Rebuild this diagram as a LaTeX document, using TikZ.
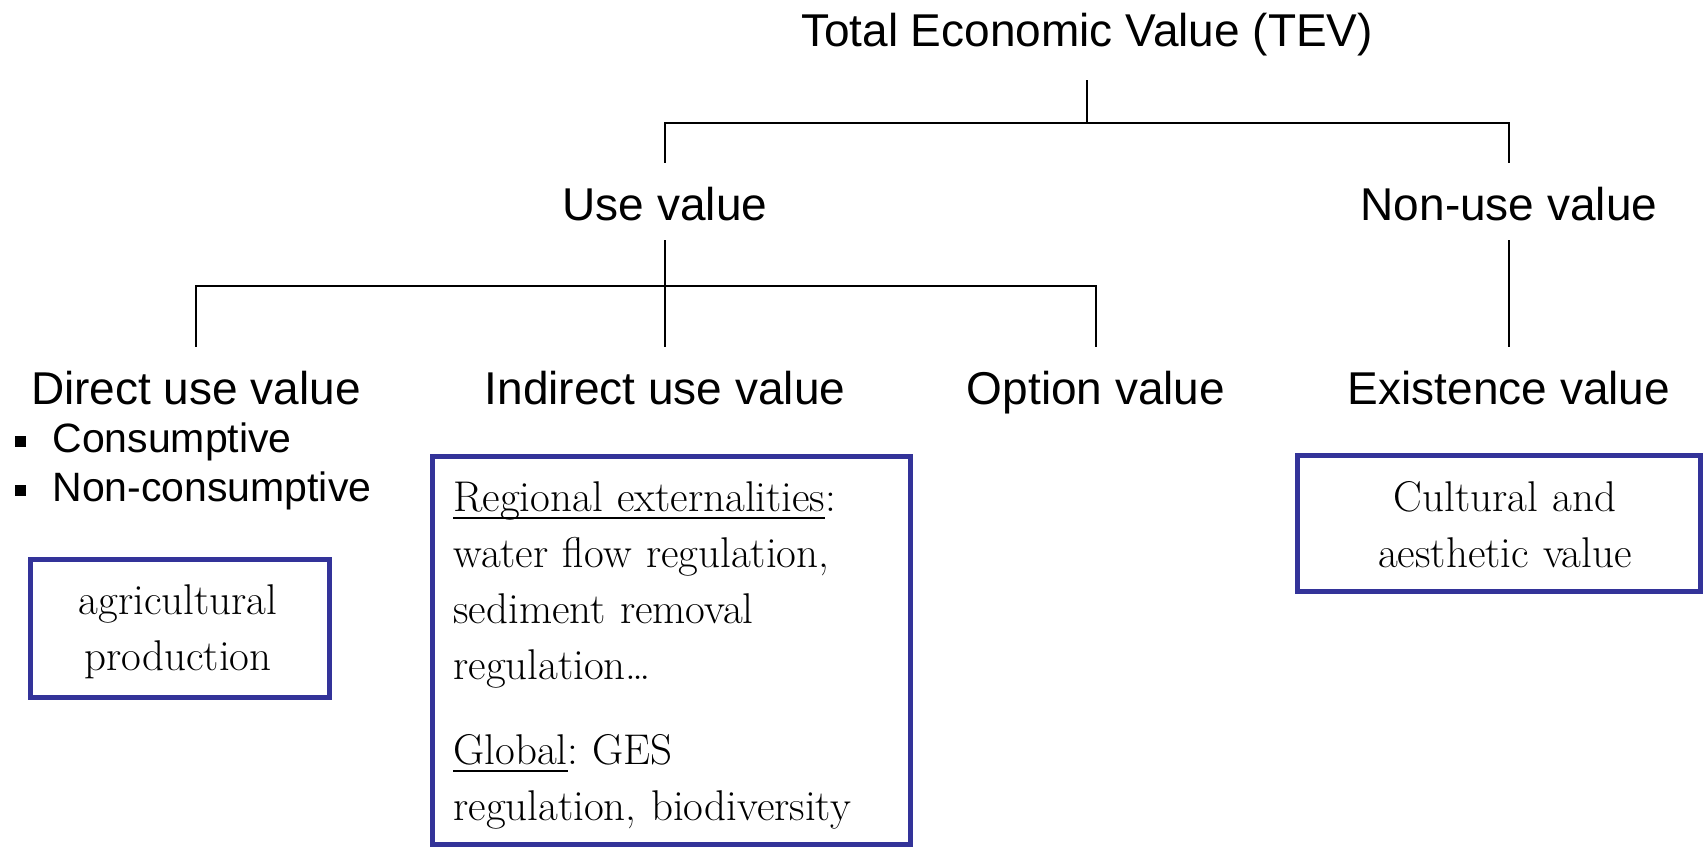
\documentclass[tikz,border=0pt]{standalone}
\usepackage{fontspec}
\setsansfont{Liberation Sans}
\usepackage{tikz}

\definecolor{boxblue}{RGB}{51,51,153}
\newcommand{\ulword}[1]{\leavevmode\setbox0\hbox{#1}\rlap{\rule[-3.5pt]{\wd0}{1pt}}\box0}
\newcommand{\sqbullet}{\rule[2.75pt]{5.5pt}{5.5pt}\hspace{13pt}}

\begin{document}
\begin{tikzpicture}[x=0.5pt, y=-0.5pt,
	lbl/.style={font=\sffamily\fontsize{23}{27}\selectfont, inner sep=0pt, text height=29pt, text depth=9.5pt, anchor=base},
	item/.style={font=\sffamily\fontsize{20.5}{24}\selectfont, inner sep=0pt, anchor=base west},
	link/.style={line width=0.9pt},
	valbox/.style={draw=boxblue, line width=2.5pt, inner sep=0pt},
	boxtext/.style={font=\fontsize{21.5}{28}\selectfont\frenchspacing, inner sep=0pt, anchor=base}]
	
	\useasboundingbox (0, 0) rectangle (1704, 849);
	
	\node[lbl, text depth=16.5pt] (tev) at (1087, 47) {Total Economic Value (TEV)};
	
	\node[lbl] (use) at (665, 221) {Use value};
	\node[lbl] (nonuse) at (1509, 221) {Non-use value};
	
	\node[lbl] (direct) at (196, 405) {Direct use value};
	\node[lbl] (indirect) at (665, 405) {Indirect use value};
	\node[lbl] (option) at (1096, 405) {Option value};
	\node[lbl] (existence) at (1509, 405) {Existence value};
	
	\node[item] (cons) at (15, 453) {\sqbullet Consumptive};
	\node[item] (noncons) at (15, 502) {\sqbullet Non-consumptive};
	
	\coordinate (top) at (1087, 123);
	\coordinate (mid) at (665, 286);
	
	\draw[link] (tev.south) -- (top);
	\draw[link] (use.north) |- (top) -| (nonuse.north);
	\draw[link] (use.south) -- (indirect.north);
	\draw[link] (direct.north) |- (mid) -| (option.north);
	\draw[link] (nonuse.south) -- (existence.north);
	
	\node[valbox, minimum width=149.5pt, minimum height=69pt] (agribox) at (180, 628.5) {};
	\node[valbox, minimum width=239pt, minimum height=194pt] (regbox) at (671.5, 650.5) {};
	\node[valbox, minimum width=201.5pt, minimum height=68pt] (culbox) at (1499, 523.5) {};
	
	\node[boxtext, text width=140pt, align=center] (agri) at (178, 615) {agricultural\\production};
	\node[boxtext, text width=230pt, align=left, anchor=base west] (regional) at (453, 512)
		{\ulword{Regional externalities}:\\water flow regulation,\\sediment removal\\regulation…\\[14.5pt]\ulword{Global}: GES\\regulation, biodiversity};
	\node[boxtext, text width=190pt, align=center] (cultural) at (1505, 512) {Cultural and\\aesthetic value};
	
\end{tikzpicture}
\end{document}
